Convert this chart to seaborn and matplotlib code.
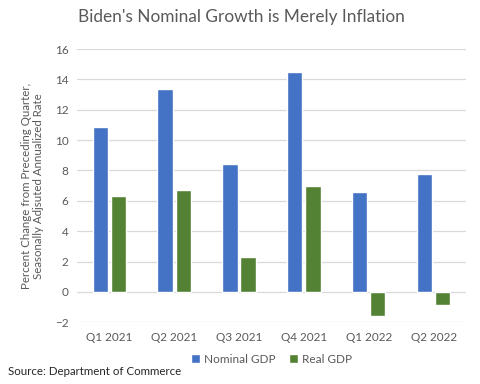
import pandas as pd
import numpy as np
import matplotlib.pyplot as plt
import seaborn as sns

# ==================== DATA ====================
quarters = ["Q1 2021", "Q2 2021", "Q3 2021", "Q4 2021", "Q1 2022", "Q2 2022"]
nominal_gdp = [10.9, 13.4, 8.4, 14.5, 6.6, 7.8]
real_gdp = [6.3, 6.7, 2.3, 7.0, -1.6, -0.9]
series = ["Nominal GDP", "Real GDP"]
colors = ["#4472C4", "#548235"]

df = pd.DataFrame({
    "Quarter": quarters * 2,
    "Series": [series[0]] * len(quarters) + [series[1]] * len(quarters),
    "Value": nominal_gdp + real_gdp,
})

# ==================== PLOT ====================
sns.set_style("white")
plt.rcParams['font.family'] = ['Lato', 'DejaVu Sans']
TXT = "#595959"

fig = plt.figure(figsize=(4.8, 3.84), dpi=100)
ax = fig.add_axes([0.160, 0.161, 0.811, 0.711])

sns.barplot(data=df, x="Quarter", y="Value", hue="Series", palette=colors,
            width=0.56, gap=0.16, saturation=1, ax=ax, legend=True, zorder=3)

ax.set_ylim(-2, 16)
ax.set_yticks(np.arange(-2, 17, 2))
ax.set_xlim(-0.5, len(quarters) - 0.5)
ax.grid(axis="y", color="#d9d9d9", lw=0.9, zorder=0)
ax.set_axisbelow(True)
for s in ax.spines.values():
    s.set_visible(False)
ax.tick_params(axis="both", length=0, labelsize=8.5, labelcolor=TXT, pad=6)
ax.tick_params(axis="x", pad=7)
ax.set_xlabel("")
ax.set_ylabel("Percent Change from Preceding Quarter,\nSeasonally Adjsuted Annualized Rate",
              fontsize=8.3, color=TXT, labelpad=8, linespacing=1.05)

fig.text(0.162, 0.955, "Biden's Nominal Growth is Merely Inflation",
         fontsize=12.4, color=TXT, ha="left", va="center")

leg = ax.legend(loc="center", bbox_to_anchor=(0.5, -0.135), ncol=2, frameon=False,
                fontsize=8.5, handlelength=0.75, handleheight=0.75, handletextpad=0.3,
                columnspacing=1.2)
for t in leg.get_texts():
    t.set_color(TXT)

fig.text(0.017, 0.033, "Source: Department of Commerce", fontsize=8.3, color="#262626",
         ha="left", va="center")

plt.savefig("out.png", dpi=100)
